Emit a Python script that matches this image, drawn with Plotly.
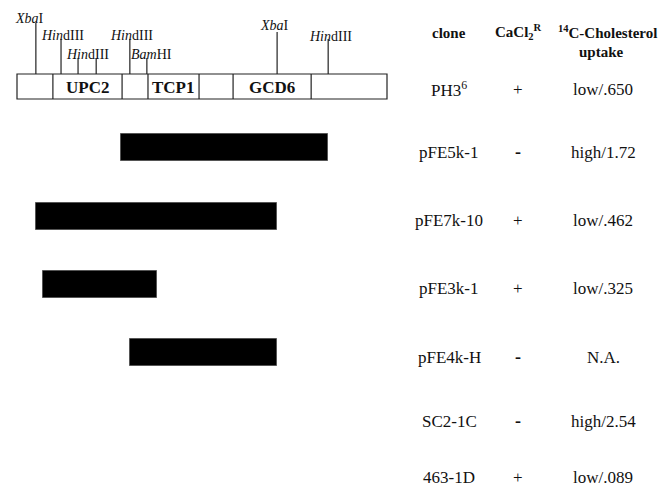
import plotly.graph_objects as go

# ---- restriction map of the PH3 insert (positions in kb from the left end) ----
segment_bounds = [0.0, 0.97, 2.84, 3.54, 4.92, 5.84, 7.95, 10.0]
genes = ["", "UPC2", "", "TCP1", "", "GCD6", ""]

site_enzymes = ["XbaI", "HindIII", "HindIII", "HindIII", "HindIII", "BamHI", "XbaI", "HindIII"]
site_kb = [0.51, 1.19, 1.65, 2.14, 3.05, 3.51, 7.03, 8.41]

# ---- subclones and phenotypes ----
clones = ["PH3<sup>6</sup>", "pFE5k-1", "pFE7k-10", "pFE3k-1", "pFE4k-H", "SC2-1C", "463-1D"]
cacl2_resistance = ["+", "-", "+", "+", "-", "-", "+"]
cholesterol_uptake = ["low/.650", "high/1.72", "low/.462", "low/.325", "N.A.", "high/2.54", "low/.089"]

fragment_clones = ["pFE5k-1", "pFE7k-10", "pFE3k-1", "pFE4k-H"]
fragment_start_kb = [2.81, 0.51, 0.70, 3.05]
fragment_end_kb = [8.41, 7.03, 3.78, 7.03]

# ---- layout constants (pixels) ----
W, H = 669, 487
PX_PER_KB = 37.0
MAP_LEFT_PX = 17.0
BOX_TOP, BOX_BOTTOM = 74, 99
row_y = {"PH3<sup>6</sup>": 89, "pFE5k-1": 152, "pFE7k-10": 220, "pFE3k-1": 288,
         "pFE4k-H": 357, "SC2-1C": 421, "463-1D": 477}
bar_y = {"pFE5k-1": 147.5, "pFE7k-10": 216, "pFE3k-1": 284.5, "pFE4k-H": 352.5}
BAR_H = 27

# site line tops and label placement, in the order of site_kb
site_top = [23, 39, 58, 58, 39, 58, 32, 39]
label_rows = [  # (label x offset px from line, label y px)
    (-6, 18), (1, 35), None, (4, 54), (2, 35), (5, 54), (-3, 25), (2, 36)]

def italic_enzyme(name):
    if name.startswith("Hin"):
        return "<i>Hin</i>dIII"
    if name.startswith("Bam"):
        return "<i>Bam</i>HI"
    return "<i>Xba</i>I"

x_range = [-MAP_LEFT_PX / PX_PER_KB, (W - MAP_LEFT_PX) / PX_PER_KB]

def kb_from_px(px):
    return (px - MAP_LEFT_PX) / PX_PER_KB

serif = "Liberation Serif"
ink = "#111111"

fig = go.Figure()

# fragment bars
fig.add_trace(go.Bar(
    x=[e - s for s, e in zip(fragment_start_kb, fragment_end_kb)],
    base=fragment_start_kb,
    y=[bar_y[c] for c in fragment_clones],
    orientation="h",
    width=BAR_H,
    marker=dict(color="#000000", line=dict(color="#555555", width=1)),
    hoverinfo="skip",
    showlegend=False,
))

# restriction site ticks
for kb, top in zip(site_kb, site_top):
    fig.add_trace(go.Scatter(
        x=[kb, kb], y=[BOX_TOP, top], mode="lines",
        line=dict(color="#222222", width=1.2),
        hoverinfo="skip", showlegend=False,
    ))

shapes = []
# map box and segment dividers
shapes.append(dict(type="rect", xref="x", yref="y",
                   x0=segment_bounds[0], x1=segment_bounds[-1], y0=BOX_TOP, y1=BOX_BOTTOM,
                   line=dict(color="#222222", width=1.2), fillcolor="rgba(0,0,0,0)"))
for b in segment_bounds[1:-1]:
    shapes.append(dict(type="line", xref="x", yref="y", x0=b, x1=b, y0=BOX_TOP, y1=BOX_BOTTOM,
                       line=dict(color="#222222", width=1.2)))

annotations = []
# gene names inside the box
for i, g in enumerate(genes):
    if g:
        annotations.append(dict(
            x=(segment_bounds[i] + segment_bounds[i + 1]) / 2, y=(BOX_TOP + BOX_BOTTOM) / 2 + 1,
            xref="x", yref="y", text=f"<b>{g}</b>", showarrow=False,
            font=dict(family=serif, size=17, color=ink), xanchor="center", yanchor="middle"))

# enzyme labels (the two short HindIII ticks share one label)
for i, (kb, name) in enumerate(zip(site_kb, site_enzymes)):
    lr = label_rows[i]
    if lr is None:
        continue
    dx, ly = lr
    lx = kb
    if i == 3:
        lx = (site_kb[2] + site_kb[3]) / 2
        dx = 0
    annotations.append(dict(
        x=lx + dx / PX_PER_KB, y=ly, xref="x", yref="y", text=italic_enzyme(name),
        showarrow=False, font=dict(family=serif, size=14, color=ink),
        xanchor="center", yanchor="middle"))

# table columns
col_clone, col_ca, col_up = 449, 518, 603
head_font = dict(family=serif, size=15, color=ink)
annotations.append(dict(x=kb_from_px(col_clone), y=33, xref="x", yref="y", text="<b>clone</b>",
                        showarrow=False, font=head_font))
annotations.append(dict(x=kb_from_px(col_ca), y=32, xref="x", yref="y",
                        text="<b>CaCl<sub>2</sub><sup>R</sup></b>",
                        showarrow=False, font=head_font))
annotations.append(dict(x=kb_from_px(607), y=32, xref="x", yref="y",
                        text="<b><sup>14</sup>C-Cholesterol</b>",
                        showarrow=False, font=head_font))
annotations.append(dict(x=kb_from_px(601), y=52, xref="x", yref="y",
                        text="<b>uptake</b>",
                        showarrow=False, font=head_font))

body_size = 17
for c, r, u in zip(clones, cacl2_resistance, cholesterol_uptake):
    y = row_y[c]
    annotations.append(dict(x=kb_from_px(col_clone), y=y, xref="x", yref="y", text=c,
                            showarrow=False, borderpad=0,
                            font=dict(family=serif, size=body_size, color=ink)))
    annotations.append(dict(x=kb_from_px(col_ca), y=y, xref="x", yref="y",
                            text="<b>-</b>" if r == "-" else r,
                            showarrow=False, borderpad=0,
                            font=dict(family=serif, size=body_size + 1 if r == "-" else body_size, color=ink)))
    annotations.append(dict(x=kb_from_px(col_up), y=y, xref="x", yref="y", text=u,
                            showarrow=False, borderpad=0,
                            font=dict(family=serif, size=body_size, color=ink)))

fig.update_layout(
    width=W, height=H,
    margin=dict(l=0, r=0, t=0, b=0),
    paper_bgcolor="white", plot_bgcolor="white",
    xaxis=dict(range=x_range, visible=False, fixedrange=True),
    yaxis=dict(range=[H, 0], visible=False, fixedrange=True),
    shapes=shapes, annotations=annotations,
    bargap=0,
)

fig.write_html("out.html")
